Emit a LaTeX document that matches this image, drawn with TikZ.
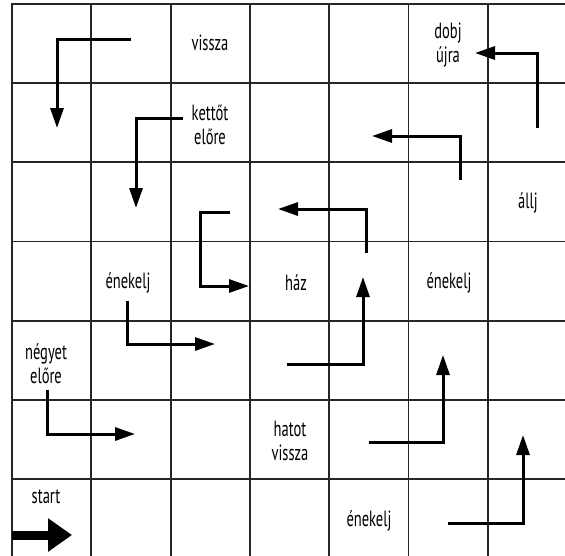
\documentclass[tikz,border=0pt]{standalone}
\usepackage{fontspec}
\setmainfont[FakeStretch=0.66]{PT Sans}
\usetikzlibrary{arrows.meta}
\begin{document}
\begin{tikzpicture}[
        x=1pt,y=-1pt,
        grid/.style={draw=black!85,line width=1.8pt,line cap=rect},
        move/.style={line width=3pt,-{Triangle[length=20pt,width=13pt]}},
        go/.style={line width=9pt,-{Triangle[length=24pt,width=32pt]}},
        field/.style={font=\fontsize{22}{24}\selectfont,align=center,inner sep=0pt},
        ]
    \useasboundingbox (0,0) rectangle (565,555);
    \clip (0,0) rectangle (565,555);
    \fill[white] (0,0) rectangle (565,555);
    % the board
    \foreach \i in {0,...,7} {
        \draw[grid] ({12+79.3*\i},4) -- ({12+79.3*\i},562);
        \draw[grid] (12,{4+79.15*\i}) -- (570,{4+79.15*\i});
    }
    % fields with text
    \node [field] (vissza) at (210,43) {vissza};
    \node [field] (dobj) at (448,45) {dobj\\újra};
    \node [field] (kettot) at (210,125) {kettőt\\előre};
    \node [field] (allj) at (528,203) {állj};
    \node [field] (enekelja) at (128,283) {énekelj};
    \node [field] (haz) at (296,283) {ház};
    \node [field] (enekeljb) at (449,283) {énekelj};
    \node [field] (negyet) at (46,364) {négyet\\előre};
    \node [field] (hatot) at (290,441) {hatot\\vissza};
    \node [field] (start) at (46,497) {start};
    \node [field] (enekeljc) at (369,521) {énekelj};
    % moves
    \draw [move] (131,39) -- (57,39) -- (57,128);
    \draw [move] (183,118) -- (136,118) -- (136,208);
    \draw [move] (537,128) -- (537,53) -- (475,53);
    \draw [move] (460,180) -- (460,136) -- (372,136);
    \draw [move] (230,212) -- (200,212) -- (200,286) -- (249,286);
    \draw [move] (366,253) -- (366,209) -- (278,209);
    \draw [move] (287,364) -- (363,364) -- (363,277);
    \draw [move] (127,301) -- (127,344) -- (215,344);
    \draw [move] (47,390) -- (47,434) -- (135,434);
    \draw [move] (369,442) -- (443,442) -- (443,355);
    \draw [move] (448,523) -- (523,523) -- (523,435);
    \draw [go] (12,535) -- (72,535);
\end{tikzpicture}
\end{document}
